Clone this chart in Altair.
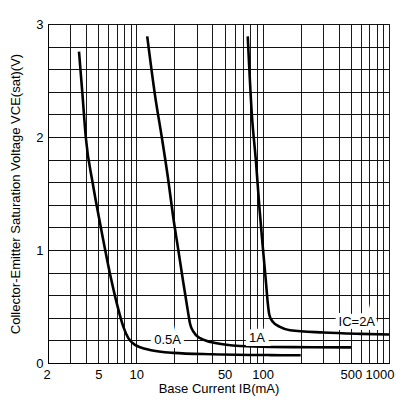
import altair as alt
import pandas as pd

FONT = "Liberation Sans"

# Curve data: base current (mA) vs VCE(sat) (V)
ib_05 = [3.52, 3.74, 3.98, 4.52, 5.26, 6.19, 7.0, 7.9, 8.65, 9.77, 10.7, 12.8, 19.6, 40, 114.6, 200]
v_05 = [2.755, 2.39, 2.0, 1.59, 1.19, 0.79, 0.53, 0.32, 0.22, 0.16, 0.14, 0.115, 0.09, 0.078, 0.07, 0.068]

ib_1 = [12.2, 14.1, 15.9, 17.9, 19.6, 21.5, 23.6, 25.5, 26.6, 28.3, 32, 43.3, 66.2, 114.6, 250, 500]
v_1 = [2.89, 2.36, 2.0, 1.62, 1.29, 1.0, 0.705, 0.47, 0.35, 0.277, 0.22, 0.174, 0.15, 0.142, 0.14, 0.138]

ib_2 = [76.2, 82, 88.7, 94.2, 100.2, 106.4, 109.8, 113, 120.3, 137, 165, 302, 600, 1000]
v_2 = [2.89, 2.21, 1.77, 1.38, 1.03, 0.705, 0.53, 0.425, 0.365, 0.32, 0.29, 0.27, 0.258, 0.252]

# Curve labels
label_text = ["0.5A", "1A", "IC=2A"]
label_ib = [17.7, 90, 556]
label_v = [0.2, 0.225, 0.36]

# Axis ticks
x_grid = [2, 3, 4, 5, 6, 7, 8, 9, 10, 20, 30, 40, 50, 60, 70, 80, 90,
          100, 200, 300, 400, 500, 600, 700, 800, 900, 1000]
x_labels = [2, 5, 10, 50, 100, 500, 1000]
y_grid = [0, 0.2, 0.4, 0.6, 0.8, 1.0, 1.2, 1.4, 1.6, 1.8, 2.0, 2.2, 2.4, 2.6, 2.8, 3.0]
y_labels = [0, 1, 2, 3]

rows = []
for name, xs, ys in [("0.5A", ib_05, v_05), ("1A", ib_1, v_1), ("2A", ib_2, v_2)]:
    for x, y in zip(xs, ys):
        rows.append({"series": name, "ib": x, "v": y})
df = pd.DataFrame(rows)
lab = pd.DataFrame({"text": label_text, "ib": label_ib, "v": label_v})

xlab_expr = "indexof(" + str(x_labels) + ", datum.value) >= 0 ? '' + datum.value : ''"
ylab_expr = "indexof(" + str(y_labels) + ", datum.value) >= 0 ? '' + datum.value : ''"

xscale = alt.Scale(type="log", domain=[2, 1000], nice=False)
yscale = alt.Scale(domain=[0, 3], nice=False)

xaxis = alt.Axis(values=x_grid, labelExpr=xlab_expr, title="Base Current IB(mA)",
                 grid=True, gridColor="#1a1a1a", gridWidth=1, ticks=False,
                 labelPadding=5, titlePadding=1, domainColor="black",
                 labelFontSize=13, titleFontSize=13, labelFont=FONT, titleFont=FONT,
                 labelColor="black", titleColor="black", titleFontWeight="normal",
                 labelFlush=True, labelFlushOffset=5, labelOverlap=False)
yaxis = alt.Axis(values=y_grid, labelExpr=ylab_expr,
                 title="Collector-Emitter Saturation Voltage VCE(sat)(V)",
                 grid=True, gridColor="#111", gridWidth=1, ticks=False,
                 labelPadding=5, titlePadding=13, domainColor="black",
                 labelFontSize=13, titleFontSize=13, labelFont=FONT, titleFont=FONT,
                 labelColor="black", titleColor="black", titleFontWeight="normal",
                 labelFlush=False, labelOverlap=False)

X = alt.X("ib:Q", scale=xscale, axis=xaxis)
Y = alt.Y("v:Q", scale=yscale, axis=yaxis)

lines = alt.Chart(df).mark_line(color="black", strokeWidth=2.6, interpolate="monotone").encode(
    x=X, y=Y, detail="series:N", order="ib:Q",
)

halo = alt.Chart(lab).mark_text(font=FONT, fontSize=13, color="white", stroke="white",
                                strokeWidth=8, baseline="middle", align="center").encode(
    x=X, y=Y, text="text:N")
texts = alt.Chart(lab).mark_text(font=FONT, fontSize=13, color="black",
                                 baseline="middle", align="center").encode(
    x=X, y=Y, text="text:N")

chart = alt.layer(lines, halo, texts).properties(
    width=341, height=339,
    autosize=alt.AutoSizeParams(type="none"),
    padding={"left": 40, "top": 16, "right": 6, "bottom": 34},
    background="white",
).configure_view(stroke="black", strokeWidth=1)

chart.save("out.html", embed_options={"renderer": "svg", "actions": False})
